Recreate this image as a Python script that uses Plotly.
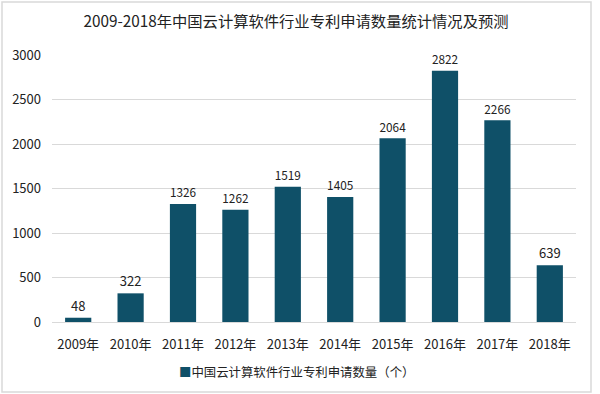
import plotly.graph_objects as go

years = ["2009年", "2010年", "2011年", "2012年", "2013年", "2014年", "2015年", "2016年", "2017年", "2018年"]
values = [48, 322, 1326, 1262, 1519, 1405, 2064, 2822, 2266, 639]
series_name = "中国云计算软件行业专利申请数量（个）"
title = "2009-2018年中国云计算软件行业专利申请数量统计情况及预测"
y_ticks = [0, 500, 1000, 1500, 2000, 2500, 3000]

font = "Noto Sans CJK SC"
color = "#0f5068"
fig = go.Figure()
fig.add_trace(go.Bar(
    x=years, y=values, name=series_name,
    marker=dict(color=color, line=dict(width=0)),
    width=0.5,
    text=[str(v) for v in values], textposition="outside",
    textfont=dict(size=13, color="#222222", family=font),
    cliponaxis=False, showlegend=False,
))
fig.update_layout(
    width=600, height=394,
    paper_bgcolor="white", plot_bgcolor="white",
    margin=dict(l=52, r=24, t=55, b=72, autoexpand=False),
    title=dict(text=title, x=296/600, xanchor="center", xref="container", y=1 - 22/394, yref="container",
               yanchor="middle", pad=dict(t=0, b=0, l=0, r=0),
               font=dict(size=15.3, color="#222222", family=font)),
    font=dict(family=font, color="#333333"),
    showlegend=False,
    xaxis=dict(showline=True, linecolor="#d9d9d9", ticks="", ticklabelstandoff=10,
               tickfont=dict(size=13, color="#222222")),
    yaxis=dict(range=[0, 3000], tickvals=y_ticks, showgrid=True, gridcolor="#d9d9d9",
               zeroline=False, ticks="", ticklabelstandoff=10,
               tickfont=dict(size=13, color="#222222")),
)
fig.add_annotation(xref="paper", yref="paper", x=(296 - 52) / 524, y=-50/267, xanchor="center", yanchor="middle",
                   text=f"<span style='color:{color}'>■</span>{series_name}", showarrow=False,
                   font=dict(size=12.4, color="#222222", family=font))
fig.add_shape(type="rect", xref="paper", yref="paper",
              x0=-50/524, x1=1+15/524, y0=-70/267, y1=1+53/267,
              line=dict(color="#d9d9d9", width=1.5), layer="below")
fig.write_html("out.html", config={"displayModeBar": False},
               post_script="document.body.style.margin='0';")
